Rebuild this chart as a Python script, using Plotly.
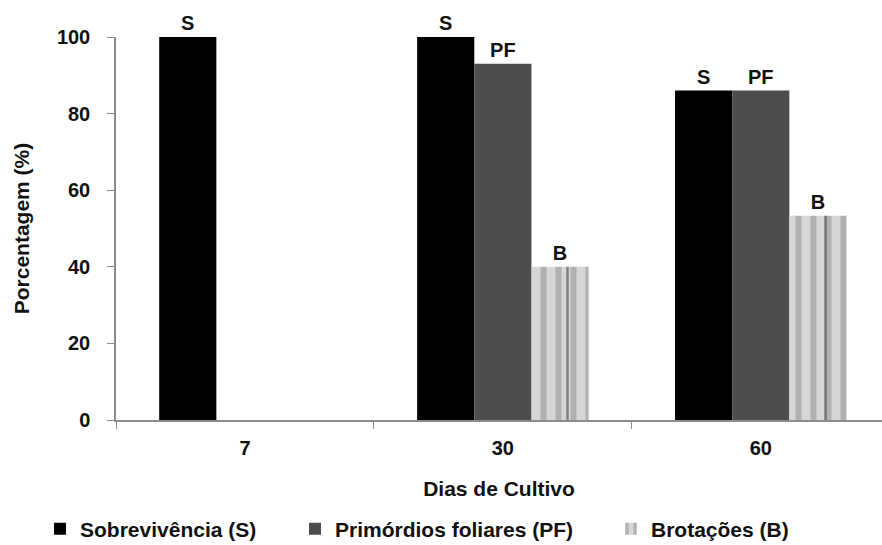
import plotly.graph_objects as go

dias = ["7", "30", "60"]
sobrevivencia = [100, 100, 86]
primordios = [None, 93, 86]
brotacoes = [None, 40, 53.3]

lbl_s = ["S", "S", "S"]
lbl_pf = ["", "PF", "PF"]
lbl_b = ["", "B", "B"]

y_ticks = [0, 20, 40, 60, 80, 100]

font_family = "Liberation Sans, Arial, sans-serif"
ink = "#111111"
txt_font = dict(family=font_family, size=20, color=ink)


def bold(labels):
    return ["<b>%s</b>" % t if t else "" for t in labels]


fig = go.Figure()
fig.add_bar(
    x=dias, y=sobrevivencia, name="<b>Sobrevivência (S)</b>",
    offsetgroup="s", legend="legend",
    marker=dict(color="#000000", line=dict(width=0)),
    text=bold(lbl_s), textposition="outside",
    textfont=txt_font, cliponaxis=False,
)
fig.add_bar(
    x=dias, y=primordios, name="<b>Primórdios foliares (PF)</b>",
    offsetgroup="pf", legend="legend2",
    marker=dict(color="#4d4d4d", line=dict(width=0)),
    text=bold(lbl_pf), textposition="outside",
    textfont=txt_font, cliponaxis=False,
)
# striped fill: light base with mid-grey bands ...
fig.add_bar(
    x=dias, y=brotacoes, name="<b>Brotações (B)</b>",
    offsetgroup="b", legend="legend3",
    marker=dict(
        color="#d6d6d6",
        line=dict(width=0),
        pattern=dict(shape="|", fgcolor="#8c8c8c", bgcolor="#d6d6d6",
                     size=15, solidity=0.4),
    ),
    text=bold(lbl_b), textposition="outside",
    textfont=txt_font, cliponaxis=False,
)
# ... plus sparse dark pin-stripes laid over the same bars
fig.add_bar(
    x=dias, y=brotacoes, name="", showlegend=False, hoverinfo="skip",
    offsetgroup="b",
    marker=dict(
        color="rgba(0,0,0,0)",
        line=dict(width=0),
        pattern=dict(shape="|", fgcolor="#2e2e2e", bgcolor="rgba(0,0,0,0)",
                     size=43, solidity=0.06),
    ),
)

legend_common = dict(
    orientation="h", y=-0.285, yanchor="middle", xanchor="left",
    font=dict(family=font_family, size=21, color=ink),
    bgcolor="rgba(0,0,0,0)", borderwidth=0,
)

fig.update_layout(
    width=882, height=545,
    margin=dict(l=116, r=0, t=37, b=125, autoexpand=False),
    paper_bgcolor="white", plot_bgcolor="white",
    barmode="group", bargap=0.335, bargroupgap=0,
    font=dict(family=font_family, size=20, color=ink),
    showlegend=True,
    legend=dict(x=-0.0992, **legend_common),
    legend2=dict(x=0.2337, **legend_common),
    legend3=dict(x=0.6462, **legend_common),
)
fig.update_xaxes(
    type="category", range=[-0.5, 2.47], automargin=False,
    tickvals=dias, ticktext=bold(dias),
    showline=True, linecolor="#8c8c8c", linewidth=1.5,
    ticks="outside", tickson="boundaries", ticklen=7, tickcolor="#8c8c8c",
    ticklabelstandoff=9,
    tickfont=dict(family=font_family, size=20, color=ink),
    title=dict(text="<b>Dias de Cultivo</b>", standoff=24,
               font=dict(family=font_family, size=21, color=ink)),
    showgrid=False,
)
fig.update_yaxes(
    range=[0, 100], automargin=False,
    tickvals=y_ticks, ticktext=bold([str(v) for v in y_ticks]),
    showline=True, linecolor="#8c8c8c", linewidth=1.5,
    ticks="outside", ticklen=7, tickcolor="#8c8c8c",
    ticklabelstandoff=13,
    tickfont=dict(family=font_family, size=20, color=ink),
    title=dict(text="<b>Porcentagem (%)</b>", standoff=22,
               font=dict(family=font_family, size=21, color=ink)),
    showgrid=False, zeroline=False,
)

fig.write_html("out.html")
